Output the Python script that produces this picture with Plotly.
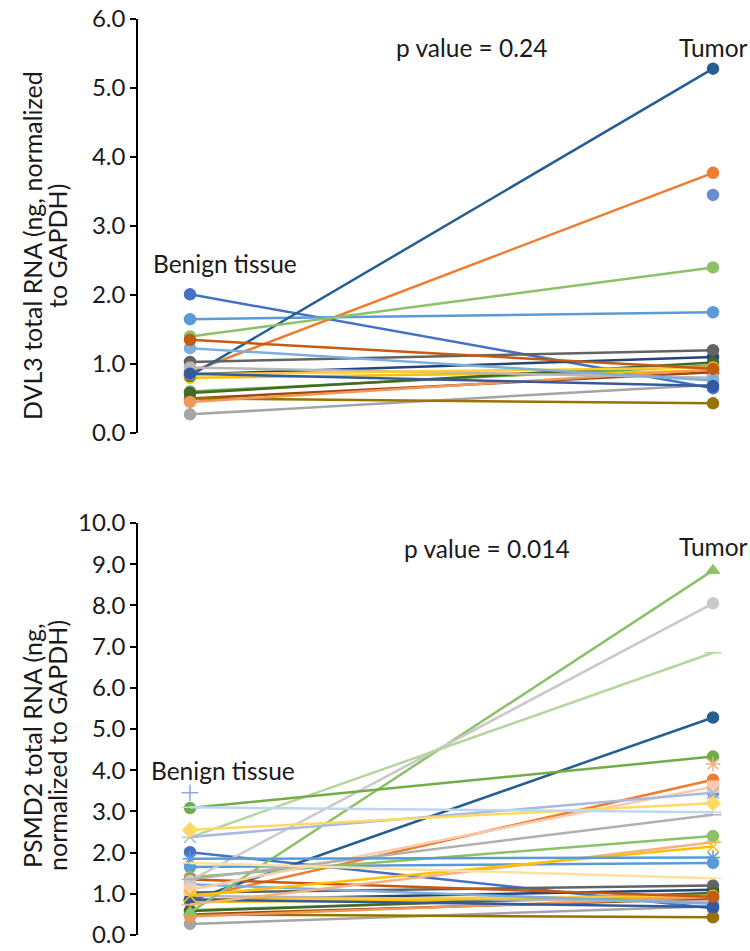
import plotly.graph_objects as go

# Sample groups on the x axis
groups = ["Benign tissue", "Tumor"]

# DVL3 total RNA (ng, normalized to GAPDH) per patient: benign, tumor
dvl3_benign = [2.01, 0.88, 0.27, 0.80, 1.65, 0.60, 0.85, 0.50, 1.03, 0.50,
               0.83, 0.58, None, 0.45, 0.95, 0.85, 1.23, 1.40, 0.86, 1.35]
dvl3_tumor = [0.65, 3.77, 0.70, 0.90, 1.75, 0.98, 1.10, 0.88, 1.20, 0.43,
              5.28, 1.02, 3.45, 0.92, 0.80, 0.95, 0.76, 2.40, 0.68, 0.93]

# PSMD2 total RNA per patient: the same cohort plus additional samples
psmd2_benign = dvl3_benign + [0.55, 1.32, 2.37, 3.08, 1.10, None, 2.38, 2.55,
                              3.45, 3.10, 1.35, 0.74, 0.95, 1.85, 1.75]
psmd2_tumor = dvl3_tumor + [8.85, 8.05, 6.85, 4.33, 3.60, 4.15, 3.45, 3.20,
                            None, 2.98, 2.92, 2.25, 2.15, 1.88, 1.38]

# Office-style series palette
series_colors = ["#4472C4", "#ED7D31", "#A5A5A5", "#FFC000", "#5B9BD5", "#70AD47",
                 "#264478", "#9E480E", "#636363", "#997300", "#255E91", "#43682B",
                 "#698ED0", "#F1975A", "#B7B7B7", "#FFCD33", "#7CAFDD", "#8CC168",
                 "#335AA1", "#C55A11",
                 "#8CC168", "#C9C9C9", "#B5D6A0", "#70AD47", "#F8CBAD", "#F4B183",
                 "#A9B9E0", "#FFD966", "#8FAADC", "#BDD7EE", "#B0B0B0", "#F4B183",
                 "#FFC000", "#5B9BD5", "#FFE0A3"]
series_symbols = ["circle"] * 20 + [
    "triangle-up", "circle", "line-ew-open", "circle", "square", "asterisk-open",
    "x-thin-open", "diamond", "cross-thin-open", "line-ew-open", "line-ew-open",
    "line-ew-open", "x-thin-open", "asterisk-open", "line-ew-open"]

FONT = "Lato, 'Open Sans', sans-serif"
TEXT = "#1a1a1a"

fig = go.Figure()


def add_series(benign, tumor, xa, ya):
    for i, (b, t) in enumerate(zip(benign, tumor)):
        c = series_colors[i]
        sym = series_symbols[i]
        size = 11 if sym in ("circle", "diamond", "triangle-up", "square") else 12
        fig.add_trace(go.Scatter(
            x=[0, 1], y=[b, t], xaxis=xa, yaxis=ya,
            mode="lines+markers",
            line=dict(color=c, width=2.5),
            marker=dict(color=c, size=size, symbol=sym,
                        line=dict(color=c, width=1.5)),
            showlegend=False, hoverinfo="skip",
        ))


add_series(dvl3_benign, dvl3_tumor, "x", "y")
add_series(psmd2_benign, psmd2_tumor, "x2", "y2")

# plot area starts at the y-axis line (138 px); benign at 190 px, tumor at 713 px
xrange = [-52 / 523, (750 - 138 - 52) / 523]
xcommon = dict(range=xrange, visible=False, showgrid=False, zeroline=False)
ycommon = dict(showgrid=False, zeroline=False, showline=True, linecolor="black",
               linewidth=1.5, ticks="outside", ticklen=6, tickcolor="black",
               tickwidth=1.5, tickformat=".1f", mirror=False, automargin=False,
               ticklabeloverflow="allow",
               tickfont=dict(family=FONT, size=24, color=TEXT))

H = 951
Y0_BOTTOM = 935  # pixel row of 0.0 on the lower axis
fig.update_layout(
    width=750, height=H,
    margin=dict(l=138, r=0, t=0, b=0, autoexpand=False),
    paper_bgcolor="white", plot_bgcolor="white",
    font=dict(family=FONT, size=24, color=TEXT),
    xaxis=dict(domain=[0, 1], anchor="y", **xcommon),
    xaxis2=dict(domain=[0, 1], anchor="y2", **xcommon),
    yaxis=dict(domain=[(H - 433) / H, (H - 19) / H], range=[0, 6], dtick=1,
               anchor="x", **ycommon),
    yaxis2=dict(domain=[(H - Y0_BOTTOM) / H, (H - 523) / H], range=[0, 10], dtick=1,
                anchor="x2", **ycommon),
)

# Axis titles: two centred lines each, rotated along the axis
title_lines = [
    (32, 246, "DVL3 total RNA (ng, normalized"),
    (57, 246, "to GAPDH)"),
    (32, 746, "PSMD2 total RNA (ng,"),
    (57, 746, "normalized to GAPDH)"),
]
for xpx, ypx, txt in title_lines:
    fig.add_annotation(x=(xpx - 138) / 612, y=(H - ypx) / H, xref="paper", yref="paper",
                       text=txt, textangle=-90, showarrow=False,
                       font=dict(family=FONT, size=25, color=TEXT),
                       xanchor="center", yanchor="middle")

ann_font = dict(family=FONT, size=24.5, color=TEXT)
labels = [
    ("x", "y", 0.539, 5.59, "p value = 0.24"),
    ("x", "y", 1.0, 5.59, groups[1]),
    ("x", "y", 0.067, 2.46, groups[0]),
    ("x2", "y2", 0.568, 9.38, "p value = 0.014"),
    ("x2", "y2", 1.0, 9.42, groups[1]),
    ("x2", "y2", 0.063, 4.0, groups[0]),
]
for xa, ya, xv, yv, txt in labels:
    fig.add_annotation(x=xv, y=yv, xref=xa, yref=ya, text=txt, showarrow=False,
                       font=ann_font, xanchor="center", yanchor="middle")

fig.write_html("out.html")
